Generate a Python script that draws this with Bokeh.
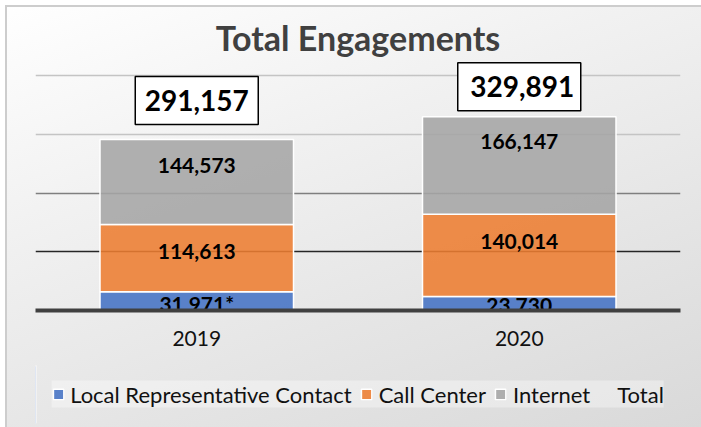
from bokeh.plotting import figure
from bokeh.layouts import column
from bokeh.models import (ColumnDataSource, Range1d, Grid, FixedTicker, Legend, LegendItem)
from bokeh.core.properties import value
from bokeh.embed import file_html
from bokeh.resources import INLINE

# ---- data ----
years = ["2019", "2020"]
local_rep = [31971, 23730]
call_center = [114613, 140014]
internet = [144573, 166147]
totals = [291157, 329891]
local_labels = ["31,971*", "23,730"]
call_labels = ["114,613", "140,014"]
internet_labels = ["144,573", "166,147"]
total_labels = ["291,157", "329,891"]
series_names = ["Local Representative Contact", "Call Center", "Internet"]
colors = ["#4472C4", "#ED7D31", "#A5A5A5"]

FONT = "Lato"
Y_END = 429000
FRAME_H = 252
UNITS_PER_PX = Y_END / FRAME_H

src = ColumnDataSource(dict(year=years, local=local_rep, call=call_center, internet=internet))

p = figure(x_range=years, y_range=Range1d(0, Y_END), width=701, height=365,
           output_backend="svg", toolbar_location=None,
           min_border_left=35, min_border_right=21, min_border_top=58, min_border_bottom=55)
p.background_fill_color = None
p.border_fill_color = None
p.outline_line_color = None

# title
p.title.text = "Total Engagements"
p.title.align = "center"
p.title.text_font = FONT
p.title.text_font_size = "34px"
p.title.text_font_style = "bold"
p.title.text_color = "#404040"
p.title.offset = 7
p.title.standoff = 2

# grid lines
p.xgrid.visible = False
p.ygrid.visible = False
p.yaxis.visible = False
for ticks, col in (([300000, 400000], "#c4c4c4"), ([200000], "#7f7f7f"), ([100000], "#262626")):
    p.add_layout(Grid(dimension=1, ticker=FixedTicker(ticks=ticks), grid_line_color=col, grid_line_width=1.5))

# bars
rs = p.vbar_stack(["local", "call", "internet"], x="year", width=0.6, color=colors,
                  fill_alpha=0.88, line_color="white", line_width=1.5, source=src)

# data labels inside the segments
cum1 = list(local_rep)
cum2 = [a + b for a, b in zip(local_rep, call_center)]
cum3 = [a + b for a, b in zip(cum2, internet)]
lab_src = ColumnDataSource(dict(
    x=years * 3,
    y=cum1 + cum2 + cum3,
    text=local_labels + call_labels + internet_labels,
    yoff=[12, 9] + [27, 27] + [26, 25],
))
p.text(x="x", y="y", text="text", y_offset="yoff", source=lab_src,
       text_font=value(FONT), text_font_size="21px", text_font_style="bold",
       text_color="black", text_align="center", text_baseline="middle")

# total labels in boxes (placed a few pixels above each bar)
gap_px = [39, 30]
tot_src = ColumnDataSource(dict(
    x=years,
    y=[t + g * UNITS_PER_PX for t, g in zip(totals, gap_px)],
    text=total_labels,
    xoff=[0, 3],
))
p.rect(x="x", y="y", width=123, height=48, width_units="screen", height_units="screen",
       source=tot_src, fill_color="white", line_color="black", line_width=1.5)
p.text(x="x", y="y", text="text", x_offset="xoff", source=tot_src,
       text_font=value(FONT), text_font_size="28px", text_font_style="bold",
       text_color="black", text_align="center", text_baseline="middle")

# x axis
ax = p.xaxis[0]
ax.axis_line_width = 4
ax.axis_line_color = "#404040"
ax.major_tick_line_color = None
ax.minor_tick_line_color = None
ax.major_tick_out = 0
ax.major_label_standoff = 20
ax.major_label_text_font = FONT
ax.major_label_text_font_size = "21px"
ax.major_label_text_color = "#111111"

# ---- legend strip (separate small figure so the legend is not clipped) ----
lg = figure(width=701, height=62, x_range=Range1d(0, 1), y_range=Range1d(0, 1),
            output_backend="svg", toolbar_location=None,
            x_axis_location=None, y_axis_location=None,
            min_border_left=15, min_border_right=0, min_border_top=0, min_border_bottom=4)
lg.background_fill_color = None
lg.border_fill_color = None
lg.outline_line_color = None
lg.xgrid.visible = False
lg.ygrid.visible = False
# legend proxies drawn outside the visible range
leg_src = ColumnDataSource(dict(x=[-5, -5], local=local_rep, call=call_center, internet=internet))
lrs = lg.vbar_stack(["local", "call", "internet"], x="x", width=0.1, color=colors,
                    fill_alpha=0.88, line_color="white", line_width=1.5, source=leg_src)
tot_leg = lg.scatter(x=[-5, -5], y=totals, size=0, fill_alpha=0, line_alpha=0)

items = [LegendItem(label=n, renderers=[r]) for n, r in zip(series_names, lrs)]
items.append(LegendItem(label="Total", renderers=[tot_leg]))
legend = Legend(items=items, orientation="horizontal", location="center",
                label_text_font=FONT, label_text_font_size="22px", label_text_color="#111111",
                glyph_width=13, glyph_height=13, label_standoff=6, spacing=8,
                padding=12, margin=0, background_fill_color="white", background_fill_alpha=0.35,
                border_line_color=None)
lg.add_layout(legend)

layout = column(p, lg, spacing=0)
layout.styles = {
    "background": "linear-gradient(160deg, #ffffff 0%, #f1f1f1 35%, #d9d9d9 100%)",
    "box-shadow": "inset 5px 5px 0 0 #ffffff, inset 7px 7px 0 0 #cdcdcd",
}

open("out.html", "w").write(file_html(layout, INLINE))
